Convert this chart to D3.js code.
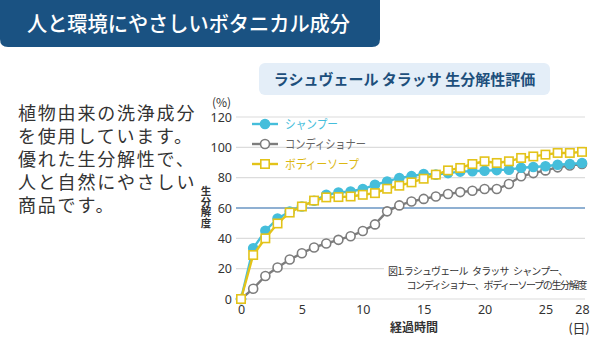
<!DOCTYPE html>
<html><head><meta charset="utf-8">
<script src="https://cdn.jsdelivr.net/npm/d3@7"></script>
<style>
html,body{margin:0;padding:0;background:#fff;}
svg{display:block;font-family:"Noto Sans CJK JP","Noto Sans",sans-serif;}
</style></head><body>
<script>
const days = d3.range(0, 29);
const shampoo = [0,33.5,45,53,57.7,61,64.8,68.7,70.2,70.9,72.5,75.3,77.5,79.8,81,82.4,82,83,84,84.3,84.6,85,85.3,86.5,87,87.5,88.5,89,89.7];
const conditioner = [0,6.8,15.2,20.8,26,30.2,34,36.6,39,41.4,44.8,49.2,57.8,61.7,64.3,66,67.6,69.2,70.5,71.4,72.5,72.5,75.8,80.9,83,84.8,86.8,88,89];
const bodysoap = [0,29,40,49.8,57,61,64.9,67,67.2,67.6,68.7,69.8,72.7,74.7,76.9,79.3,82,84.8,86.4,89,90.8,89.7,90.8,93,94,95.2,96.3,96.3,97];
const seriesNames = ["シャンプー","コンディショナー","ボディーソープ"];
const yTicks = [0,20,40,60,80,100,120];
const xTicks = [0,5,10,15,20,25,28];
const headerTitle = "人と環境にやさしいボタニカル成分";
const subTitle = "ラシュヴェール タラッサ 生分解性評価";
const bodyLines = ["植物由来の洗浄成分","を使用しています。","優れた生分解性で、","人と自然にやさしい","商品です。"];
const captionLines = ["図1.ラシュヴェール タラッサ シャンプー、","コンディショナー、ボディーソープの生分解度"];
const yTitle = "生分解度";

const W=600,H=350;
const svg=d3.select("body").append("svg").attr("width",W).attr("height",H);

// header
svg.append("path").attr("fill","#1a5282")
  .attr("d","M0,0 H380 V39 Q380,47 372,47 H8 Q0,47 0,39 Z");
svg.append("text").attr("x",27).attr("y",31)
  .attr("fill","#fff").attr("font-size",21).attr("font-weight",500)
  .attr("textLength",323).attr("lengthAdjust","spacingAndGlyphs").text(headerTitle);

// subtitle box
svg.append("rect").attr("x",259).attr("y",63).attr("width",291).attr("height",32).attr("rx",6)
  .attr("fill","#e4eef8");
svg.append("text").attr("x",404.5).attr("y",85).attr("text-anchor","middle")
  .attr("fill","#1d4f7c").attr("font-size",15).attr("font-weight",700).text(subTitle);

// body text
bodyLines.forEach((t,i)=>{
  svg.append("text").attr("x",18).attr("y",120+i*23).attr("fill","#333")
    .style("font-family","Lato,'Noto Sans CJK JP',sans-serif")
    .attr("font-size",18).attr("letter-spacing",1.8).text(t);
});

// scales
const x=d3.scaleLinear().domain([0,28]).range([241,582]);
const y=d3.scaleLinear().domain([0,120]).range([299,117]);

// gridlines
const grid=svg.append("g");
yTicks.forEach(v=>{
  grid.append("line").attr("x1",236).attr("x2",585).attr("y1",y(v)).attr("y2",y(v))
    .attr("stroke", v===60?"#8fb0d2":"#dcdcdc").attr("stroke-width", v===60?2:1.2);
});

// y axis
const yAxis=svg.append("g").attr("transform","translate(236,0)")
  .call(d3.axisLeft(y).tickValues(yTicks).tickSize(0).tickPadding(4));
yAxis.select(".domain").remove();
yAxis.selectAll("text").attr("font-size",12.5).attr("fill","#333").attr("font-family","'Noto Sans',sans-serif");

// x axis
const xAxis=svg.append("g").attr("transform","translate(0,302)")
  .call(d3.axisBottom(x).tickValues(xTicks).tickSize(0).tickPadding(3));
xAxis.select(".domain").remove();
xAxis.selectAll("text").attr("font-size",12.5).attr("fill","#333").attr("font-family","'Noto Sans',sans-serif");

svg.append("text").attr("x",212).attr("y",107).attr("font-size",12).attr("fill","#333").text("(%)");
svg.append("text").attr("x",206).attr("y",186)
  .style("writing-mode","vertical-rl").attr("font-size",10.5).attr("font-weight",700)
  .attr("fill","#333").text(yTitle);
svg.append("text").attr("x",414).attr("y",332).attr("text-anchor","middle").attr("font-size",12)
  .attr("font-weight",700).attr("fill","#333").text("経過時間");
svg.append("text").attr("x",589).attr("y",333).attr("text-anchor","end").attr("font-size",13)
  .style("font-family","Lato,'Noto Sans CJK JP',sans-serif")
  .attr("fill","#333").text("(日)");

// caption
svg.append("rect").attr("x",384).attr("y",261).attr("width",204).attr("height",30).attr("fill","#fff");
svg.append("text").attr("x",388).attr("y",275).attr("font-size",10).attr("letter-spacing",-0.85)
  .attr("word-spacing",3).attr("fill","#333").text(captionLines[0]);
svg.append("text").attr("x",586).attr("y",289).attr("text-anchor","end").attr("font-size",10)
  .attr("letter-spacing",-1.35).attr("fill","#333").text(captionLines[1]);

const series=[
  {name:seriesNames[0],vals:shampoo,color:"#45bedb",shape:"circle",fill:"#45bedb",text:"#45bedb",tw:53},
  {name:seriesNames[1],vals:conditioner,color:"#7d7d7d",shape:"circle",fill:"#fff",text:"#666",tw:81},
  {name:seriesNames[2],vals:bodysoap,color:"#e3c319",shape:"square",fill:"#fff",text:"#dcb813",tw:74}
];
const line=d3.line().x((d,i)=>x(days[i])).y(d=>y(d));
function marker(g,shape,cx,cy,s){
  if(shape==="circle") g.append("circle").attr("cx",cx).attr("cy",cy).attr("r",4.5)
     .attr("fill",s.fill).attr("stroke",s.color).attr("stroke-width",1.6);
  else g.append("rect").attr("x",cx-4.2).attr("y",cy-4.2).attr("width",8.4).attr("height",8.4)
     .attr("fill",s.fill).attr("stroke",s.color).attr("stroke-width",1.6);
}
[1,0,2].forEach(k=>{
  const s=series[k];
  const g=svg.append("g");
  g.append("path").datum(s.vals).attr("d",line).attr("fill","none").attr("stroke",s.color).attr("stroke-width",2.4);
  s.vals.forEach((v,i)=>marker(g,s.shape,x(days[i]),y(v),s));
});

// legend
series.forEach((s,i)=>{
  const ly=124+i*20;
  const g=svg.append("g");
  g.append("line").attr("x1",252).attr("x2",278).attr("y1",ly).attr("y2",ly).attr("stroke",s.color).attr("stroke-width",2.4);
  marker(g,s.shape,265,ly,s);
  g.append("text").attr("x",285).attr("y",ly+4.5).attr("font-size",12.5).attr("fill",s.text)
    .attr("textLength",s.tw).attr("lengthAdjust","spacingAndGlyphs").text(s.name);
});
</script>
</body></html>
